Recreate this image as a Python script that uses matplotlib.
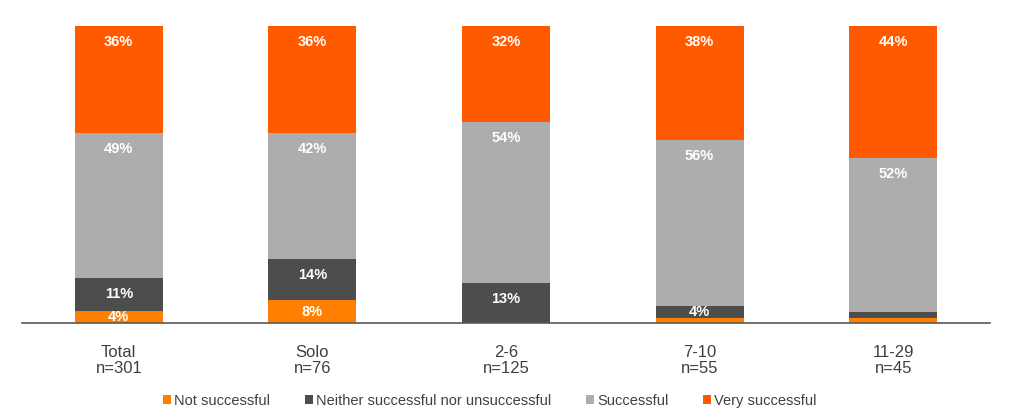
import numpy as np
import matplotlib.pyplot as plt
from matplotlib.patches import Patch

plt.rcParams['font.family'] = ['Liberation Sans', 'DejaVu Sans']

categories = ['Total\nn=301', 'Solo\nn=76', '2-6\nn=125', '7-10\nn=55', '11-29\nn=45']
series = ['Not successful', 'Neither successful nor unsuccessful', 'Successful', 'Very successful']
not_successful = [4.0, 7.7, 0.0, 1.7, 1.7]
neither = [11.0, 14.0, 13.3, 4.0, 2.0]
successful = [49.0, 42.3, 54.4, 56.0, 52.0]
very_successful = [36.0, 36.0, 32.3, 38.3, 44.3]
colors = ['#FF8000', '#4D4D4D', '#ADADAD', '#FF5A00']

fig = plt.figure(figsize=(10.14, 4.2), dpi=100)
ax = fig.add_axes([22 / 1014, 1 - 323 / 420, 968 / 1014, 297 / 420])

x = np.arange(len(categories))
bottom = np.zeros(len(categories))
px = 72 / 100  # points per pixel
for vals, color in zip([not_successful, neither, successful, very_successful], colors):
    vals = np.array(vals)
    ax.bar(x, vals, width=0.455, bottom=bottom, color=color, edgecolor='none')
    for xi, b, v in zip(x, bottom, vals):
        if v < 3:
            continue
        seg_px = v / 100 * 297
        off = min(16, seg_px / 2)
        ax.annotate(f'{v:.0f}%', xy=(xi, b + v), xytext=(0, -off * px),
                    textcoords='offset points', ha='center', va='center',
                    color='white', fontsize=10.5, fontweight='bold')
    bottom += vals

ax.set_xlim(-0.5, 4.5)
ax.set_ylim(0, 100)
ax.set_xticks(x)
ax.set_xticklabels(categories, fontsize=12, color='#404040', linespacing=1.05)
ax.tick_params(axis='x', length=0, pad=16)
ax.set_yticks([])
for s in ['top', 'right', 'left']:
    ax.spines[s].set_visible(False)
ax.spines['bottom'].set_color('#595959')
ax.spines['bottom'].set_linewidth(1.2)

handles = [Patch(facecolor=c, edgecolor='none') for c in colors]
leg = fig.legend(handles, series, loc='center', bbox_to_anchor=(0.483, 1 - 401 / 420),
                 ncol=4, frameon=False, fontsize=10.5, handlelength=0.55, handleheight=0.55,
                 handletextpad=0.2, columnspacing=2.4)
for t in leg.get_texts():
    t.set_color('#404040')

fig.savefig('out.png', dpi=100)
